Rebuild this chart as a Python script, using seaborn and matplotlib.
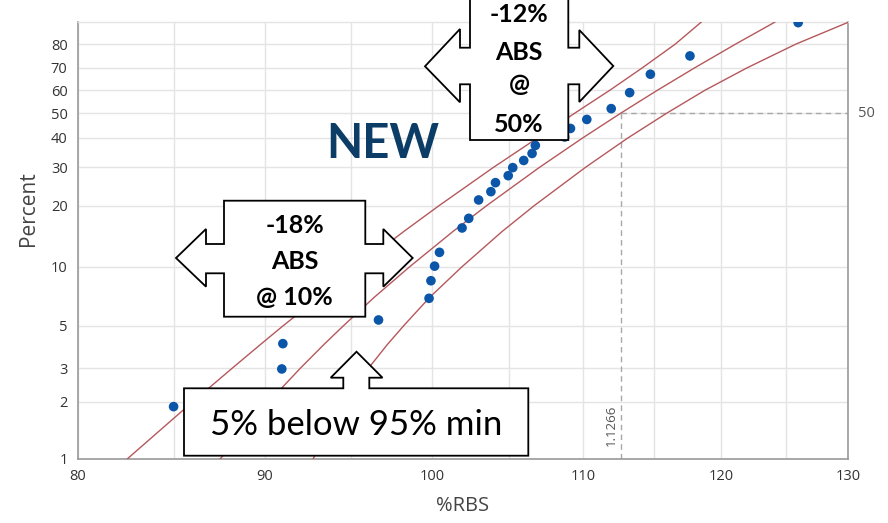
import numpy as np
import pandas as pd
import matplotlib
matplotlib.use("Agg")
import matplotlib.pyplot as plt
import seaborn as sns
from matplotlib.patches import Polygon
from matplotlib.ticker import FixedLocator, FixedFormatter, NullFormatter

# Observed %RBS values and their plotted cumulative percents
rbs = [84.97, 90.97, 91.03, 96.69, 99.82, 99.94, 100.17, 100.48, 101.92, 102.35,
       102.99, 103.79, 104.09, 104.93, 105.23, 105.96, 106.52, 106.74, 108.73,
       109.13, 110.26, 111.97, 113.28, 114.77, 117.67, 125.98]
pct = [1.89, 2.98, 4.04, 5.36, 6.93, 8.52, 10.10, 11.84, 15.62, 17.39,
       21.28, 23.27, 25.60, 27.54, 29.91, 32.16, 34.47, 37.27, 40.38, 43.68,
       47.32, 51.89, 58.93, 67.2, 75.2, 87.7]

# Fitted percentile line, and the half-width (on the log scale) of its
# 95% confidence bounds, at these percents
band_pct = [1, 1.5, 2, 3, 4, 5, 7, 10, 15, 20, 30, 40, 50, 60, 70, 80, 87.9]
fit_x = [87.50, 89.04, 90.22, 92.03, 93.42, 94.57, 96.42, 98.59, 101.33,
         103.51, 107.02, 109.97, 112.66, 115.28, 118.01, 121.09, 124.16]
band_w = [0.0586, 0.052, 0.048, 0.043, 0.040, 0.038, 0.035, 0.033, 0.031,
          0.030, 0.029, 0.0285, 0.029, 0.030, 0.033, 0.038, 0.0465]

x_ticks = [80, 90, 100, 110, 120, 130]
x_grid = [85, 95, 105, 115, 125]
y_ticks = [1, 2, 3, 5, 10, 20, 30, 40, 50, 60, 70, 80]
y_top = 87.9
median_label = "1.1266"
median_rbs = float(median_label) * 100
median_pct = 50

W, H = 888, 523

sns.set_style("white")
plt.rcParams["font.family"] = ["Open Sans", "DejaVu Sans"]


def weibull_fwd(p):
    p = np.clip(np.asarray(p, dtype=float), 1e-9, 100 - 1e-9) / 100.0
    return np.log(-np.log(1.0 - p))


def weibull_inv(u):
    return 100.0 * (1.0 - np.exp(-np.exp(np.asarray(u, dtype=float))))


fig = plt.figure(figsize=(W / 100, H / 100), dpi=100)
ax = fig.add_axes([78 / W, 1 - 459 / H, 770 / W, 437 / H])

ax.set_xscale("log")
ax.set_yscale("function", functions=(weibull_fwd, weibull_inv))

# grid
grid_c = "#e4e4e4"
ax.set_axisbelow(True)
ax.xaxis.set_major_locator(FixedLocator(x_ticks))
ax.xaxis.set_major_formatter(FixedFormatter([str(v) for v in x_ticks]))
ax.xaxis.set_minor_locator(FixedLocator(x_grid))
ax.xaxis.set_minor_formatter(NullFormatter())
ax.yaxis.set_major_locator(FixedLocator(y_ticks))
ax.yaxis.set_major_formatter(FixedFormatter([str(v) for v in y_ticks]))
ax.yaxis.set_minor_locator(FixedLocator([]))
ax.grid(True, which="both", color=grid_c, lw=1.0)

# reference lines at the median
ref_c = "#a8a8a8"
ax.plot([median_rbs, x_ticks[-1]], [median_pct, median_pct], color=ref_c,
        lw=1.0, ls=(0, (4, 3)), zorder=2)
ax.plot([median_rbs, median_rbs], [y_ticks[0], median_pct], color=ref_c,
        lw=1.0, ls=(0, (4, 3)), zorder=2)

# fit and confidence bounds
fit = np.asarray(fit_x)
w = np.asarray(band_w)
lines = pd.DataFrame({
    "pct": band_pct * 3,
    "x": np.concatenate([fit * np.exp(-w), fit, fit * np.exp(w)]),
    "curve": ["upper"] * len(fit) + ["fit"] * len(fit) + ["lower"] * len(fit),
})
line_c = "#b5585c"
sns.lineplot(data=lines, x="x", y="pct", units="curve", estimator=None,
             sort=False, color=line_c, lw=1.0, ax=ax, zorder=3)

df = pd.DataFrame({"rbs": rbs, "pct": pct})
sns.scatterplot(data=df, x="rbs", y="pct", color="#0b56a8", s=48,
                edgecolor="none", ax=ax, zorder=4)

ax.set_xlim(x_ticks[0], x_ticks[-1])
ax.set_ylim(y_ticks[0], y_top)

for side in ("left", "bottom", "right"):
    ax.spines[side].set_color("#9a9a9a")
    ax.spines[side].set_linewidth(1.2)
ax.spines["top"].set_color(grid_c)
ax.spines["top"].set_linewidth(1.0)

ax.tick_params(axis="both", which="major", length=4, width=1, color="#9a9a9a",
               labelsize=10.5, labelcolor="#333333", direction="out")
ax.tick_params(axis="x", which="minor", length=0)

ax.set_xlabel("%RBS", fontsize=14.5, color="#444444")
ax.set_ylabel("Percent", fontsize=15, color="#444444")
ax.xaxis.set_label_coords(0.5, -0.085)
ax.yaxis.set_label_coords(-0.051, 0.574)

ax.text(1.013, median_pct, "50", transform=ax.get_yaxis_transform(),
        ha="left", va="center", fontsize=10.5, color="#555555")
ax.annotate(median_label, xy=(median_rbs, 0.078),
            xycoords=("data", "axes fraction"), xytext=(-2, 0),
            textcoords="offset points", rotation=90, ha="right", va="center",
            fontsize=9.5, color="#555555")


# callout shapes, laid out in pixel positions on the figure
def fp(x, y):
    return (x / W, 1 - y / H)


def callout(verts):
    poly = Polygon([fp(x, y) for x, y in verts], closed=True,
                   transform=fig.transFigure, facecolor="white",
                   edgecolor="black", lw=1.3, zorder=10)
    fig.add_artist(poly)


def label(x, y, s, size, weight="bold", color="black"):
    fig.text(*fp(x, y), s, ha="center", va="baseline", fontsize=size,
             fontweight=weight, color=color, family=["Lato", "DejaVu Sans"],
             zorder=11)


callout([(224, 200.7), (365.3, 200.7), (365.3, 244), (383.3, 244),
         (383.3, 229), (412.7, 258), (383.3, 286.7), (383.3, 273.3),
         (365.3, 273.3), (365.3, 316.7), (224, 316.7), (224, 273.3),
         (206, 273.3), (206, 286.7), (176, 258), (206, 229), (206, 244),
         (224, 244)])
label(294.6, 233.3, "-18%", 18)
label(294.6, 269.3, "ABS", 18)
label(294.6, 305.5, "@ 10%", 18)

callout([(470, -20), (568.3, -20), (568.3, 47.7), (579.3, 47.7),
         (579.3, 30), (613.3, 66), (579.3, 102), (579.3, 84.3),
         (568.3, 84.3), (568.3, 140), (470, 140), (470, 84.3),
         (460, 84.3), (460, 102.3), (425, 66.3), (460, 29), (460, 47.7),
         (470, 47.7)])
label(519.2, 21.7, "-12%", 18)
label(519.2, 60, "ABS", 18)
label(519.2, 92, "@", 18)
label(519.2, 131.7, "50%", 18)

callout([(184, 388.3), (343.3, 388.3), (343.3, 377.7), (330.7, 377.7),
         (356.5, 351.7), (382.5, 377.7), (369.3, 377.7), (369.3, 388.3),
         (528.3, 388.3), (528.3, 455.7), (184, 455.7)])
label(356, 435, "5% below 95% min", 25, weight="normal")

label(382.5, 158, "NEW", 34, color="#0c3d66")

fig.savefig("out.png", dpi=100)
